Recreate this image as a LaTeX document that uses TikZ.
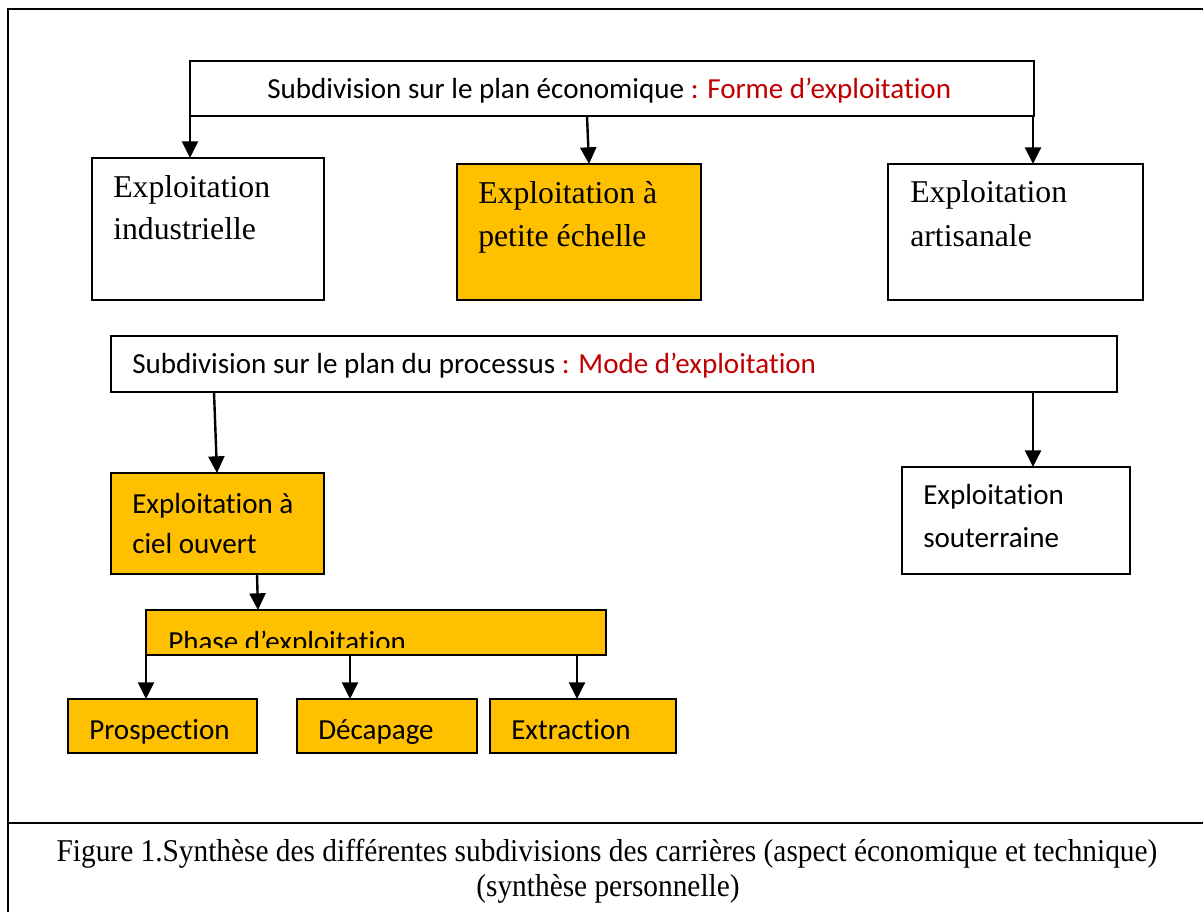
\documentclass[tikz,border=0pt]{standalone}
\usepackage{fontspec}
\setmainfont{Liberation Serif}
\newfontfamily\calib[Ligatures=NoCommon]{Carlito}
\newfontfamily\capfont[FakeStretch=0.925]{Liberation Serif}
\usetikzlibrary{arrows.meta,calc,fit}
\definecolor{gold}{HTML}{FFC000}
\definecolor{darkred}{HTML}{C00000}
\begin{document}
\begin{tikzpicture}[x=0.75pt,y=-0.75pt,
  box/.style={draw=black,line width=1.5pt,inner sep=0pt,outer sep=0pt},
  goldbox/.style={box,fill=gold},
  serift/.style={font=\fontsize{23.8}{30}\selectfont,anchor=base west,inner sep=0pt},
  calibt/.style={font=\calib\fontsize{21.8}{26}\selectfont,anchor=base west,inner sep=0pt},
  captext/.style={font=\capfont\fontsize{23.8}{35}\selectfont,anchor=base,inner sep=0pt},
  arr/.style={line width=1.8pt,-{Triangle[length=12.5pt,width=12pt]}},
]
\clip (0,0) rectangle (1203,912);

% outer frame and caption cell
\draw[line width=1.8pt] (8,9) rectangle (1230,940);
\draw[line width=1.8pt] (8,823) -- (1230,823);

% economic subdivision
\node[box,fit={(190,61) (1034,116)}] (eco) {};
\node[calibt] (ecot) at (267,99) {Subdivision sur le plan économique \textcolor{darkred}{: Forme d’exploitation}};

\node[box,fit={(92,158) (324,300)}] (ind) {};
\node[goldbox,fit={(457,164) (701,300)}] (pet) {};
\node[box,fit={(888,164) (1143,300)}] (art) {};

\node[serift] (ind1) at (113,198) {Exploitation};
\node[serift] (ind2) at (113,240) {industrielle};
\node[serift] (pet1) at (478,204) {Exploitation à};
\node[serift] (pet2) at (478,247) {petite échelle};
\node[serift] (art1) at (910,203) {Exploitation};
\node[serift] (art2) at (910,247) {artisanale};

\draw[arr] (eco.south west) -- (eco.south west |- ind.north);
\draw[arr] ($(eco.south west)+(397,0)$) -- ($(pet.north west)+(132,0)$);
\draw[arr] ($(eco.south east)+(-1,0)$) -- ($(art.north west)+(145,0)$);

% process subdivision
\node[box,fit={(111,336) (1117,392)}] (pro) {};
\node[calibt] (prot) at (132,374) {Subdivision sur le plan du processus \textcolor{darkred}{: Mode d’exploitation}};

\node[goldbox,fit={(111,473) (324,574)}] (ciel) {};
\node[calibt] (ciel1) at (132,513) {Exploitation à};
\node[calibt] (ciel2) at (132,554) {ciel ouvert};

\node[box,fit={(902,467) (1130,574)}] (sou) {};
\node[calibt] (sou1) at (923,505) {Exploitation};
\node[calibt] (sou2) at (923,547) {souterraine};

\draw[arr] ($(pro.south west)+(103,0)$) -- ($(ciel.north west)+(106,0)$);
\draw[arr] ($(pro.south west)+(922,0)$) -- ($(sou.north west)+(131,0)$);

% phases of open-pit work
\node[goldbox,fit={(146,610) (606,655)}] (pha) {};
\begin{scope}
  \clip (146,610) rectangle (606,647);
  \node[calibt] (phat) at (168,651) {Phase d’exploitation};
\end{scope}
\draw[arr] ($(ciel.south west)+(146,0)$) -- ($(pha.north west)+(112,0)$);

\node[goldbox,fit={(68,699) (257,753)}] (pros) {};
\node[goldbox,fit={(297,699) (477,753)}] (deca) {};
\node[goldbox,fit={(490,699) (676,753)}] (extr) {};
\node[calibt] (prost) at (89,739) {Prospection};
\node[calibt] (decat) at (318,739) {Décapage};
\node[calibt] (extrt) at (511,739) {Extraction};

\draw[arr] (pha.south west) -- (pha.south west |- pros.north);
\draw[arr] ($(pha.south west)+(204,0)$) -- ($(deca.north west)+(53,0)$);
\draw[arr] ($(pha.south west)+(431,0)$) -- ($(extr.north west)+(87,0)$);

% caption
\node[captext] (cap1) at (607,861)
  {Figure 1.Synthèse des différentes subdivisions des carrières (aspect économique et technique)};
\node[captext] (cap2) at (608,896)
  {(synthèse personnelle)};
\end{tikzpicture}
\end{document}
